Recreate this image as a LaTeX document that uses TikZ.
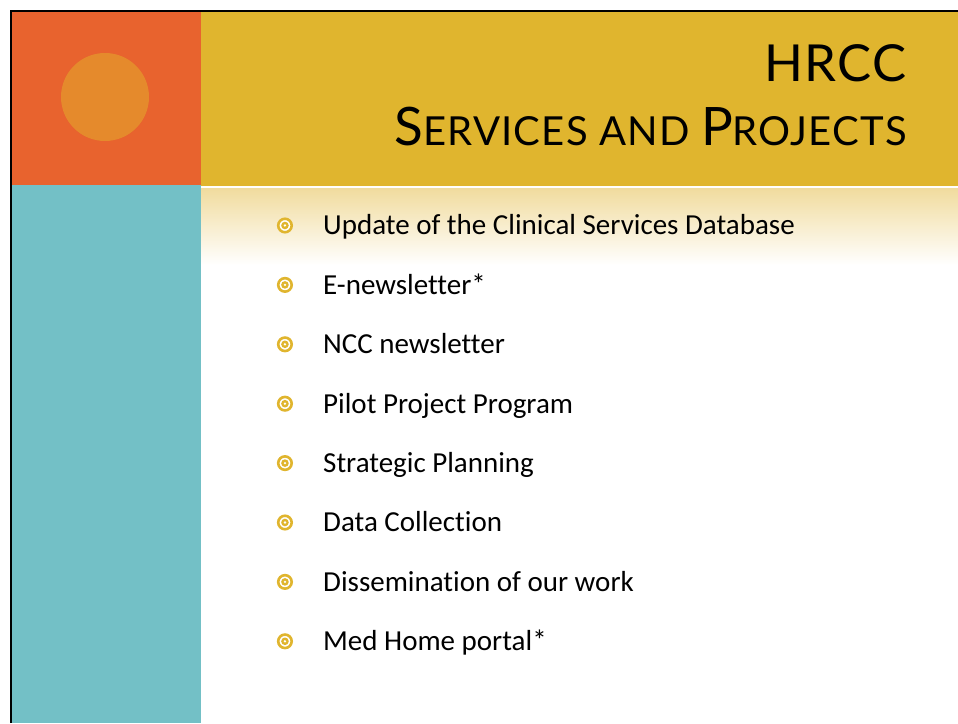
\documentclass[tikz,border=0pt]{standalone}
\usepackage{fontspec}
\setmainfont{Carlito}[Ligatures={NoCommon}]
\newfontfamily\titlefont{Lato}
\newfontfamily\titlespaced{Lato}[LetterSpace=3]
\usetikzlibrary{positioning}
\definecolor{slideorange}{HTML}{E8632E}
\definecolor{sunorange}{HTML}{E58A2C}
\definecolor{panelteal}{HTML}{73C0C6}
\definecolor{headgold}{HTML}{E0B52E}
\definecolor{fadegold}{HTML}{F1DC9F}
\newcommand{\capbig}[1]{{\fontsize{53}{58}\selectfont #1}}
\newcommand{\capsmall}[1]{{\fontsize{40}{44}\selectfont #1}}
\tikzstyle{item}=[anchor=base west, inner sep=0pt, text height=19pt, text depth=0pt, font=\fontsize{29}{31}\selectfont]
\tikzstyle{dot}=[circle, draw=headgold, fill=white, line width=2.6pt, minimum size=13.5pt, inner sep=0pt,
  path picture={\fill[headgold] (path picture bounding box.center) circle (3.8pt);
                \fill[white] (path picture bounding box.center) circle (1.3pt);}]
\tikzstyle{heading}=[anchor=base east, inner sep=0pt, font=\titlefont]
\tikzstyle{frame}=[line width=2.5pt, black]

\begin{document}
\begin{tikzpicture}[x=1pt, y=1pt]
    \useasboundingbox (0,0) rectangle (958,723);
    % panels
    \fill[slideorange] (12,538) rectangle (201,711);
    \fill[panelteal] (12,0) rectangle (201,538);
    \fill[headgold] (201,537) rectangle (958,711);
    \fill[sunorange] (105,626) circle (44);
    \shade[top color=fadegold, bottom color=white] (201,534) rectangle (958,458);
    \draw[frame] (11,0) -- (11,712) -- (958,712);
    % title
    \node[heading, font=\titlespaced\fontsize{51}{56}\selectfont] (t1) at (907,641) {HRCC};
    \node[heading, font=\titlespaced] (t2) at (907,577) {\capbig{S}\capsmall{ERVICES AND }\capbig{P}\capsmall{ROJECTS}};
    % list
    \node[item] (i1) at (323,488) {Update of the Clinical Services Database};
    \node[item] (i2) [below right=40pt and 0pt of i1.south west] {E-newsletter*};
    \node[item] (i3) [below right=40pt and 0pt of i2.south west] {NCC newsletter};
    \node[item] (i4) [below right=40pt and 0pt of i3.south west] {Pilot Project Program};
    \node[item] (i5) [below right=40pt and 0pt of i4.south west] {Strategic Planning};
    \node[item] (i6) [below right=40pt and 0pt of i5.south west] {Data Collection};
    \node[item] (i7) [below right=40pt and 0pt of i6.south west] {Dissemination of our work};
    \node[item] (i8) [below right=40pt and 0pt of i7.south west] {Med Home portal*};
    \node[dot, left=30pt of i1] (b1) {};
    \node[dot, left=30pt of i2] (b2) {};
    \node[dot, left=30pt of i3] (b3) {};
    \node[dot, left=30pt of i4] (b4) {};
    \node[dot, left=30pt of i5] (b5) {};
    \node[dot, left=30pt of i6] (b6) {};
    \node[dot, left=30pt of i7] (b7) {};
    \node[dot, left=30pt of i8] (b8) {};
\end{tikzpicture}
\end{document}
